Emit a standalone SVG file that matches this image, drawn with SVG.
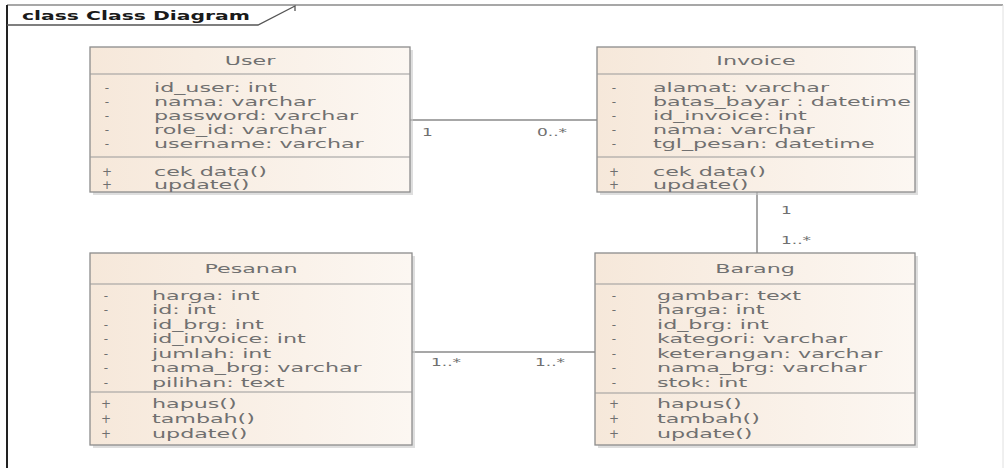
<svg xmlns="http://www.w3.org/2000/svg" width="1006" height="472" viewBox="0 0 1006 472">
<defs>
<linearGradient id="fill" x1="0" y1="0" x2="1" y2="0">
<stop offset="0" stop-color="#f6e8da"/>
<stop offset="1" stop-color="#fcf7f2"/>
</linearGradient>
<style>
.box{fill:url(#fill);stroke:#8c8c8c;stroke-width:1.3}
.shadow{fill:#c8c8c8;opacity:0.6}
.div{stroke:#9a9a9a;stroke-width:1.2}
text{font-family:"DejaVu Sans",sans-serif;fill:#707070}
.t{font-size:12px}
.h{font-size:12px;text-anchor:middle}
.s{font-size:12px;text-anchor:middle}
.lbl{font-size:10px}
.title{font-size:12px;font-weight:bold;fill:#1a1a1a}
.conn{stroke:#8a8a8a;stroke-width:1.5;fill:none}
</style>
</defs>
<rect x="0" y="0" width="1006" height="472" fill="#ffffff"/>
<g id="frame">
<line x1="7" y1="5" x2="1003" y2="5" stroke="#8a8a8a" stroke-width="1.5"/>
<line x1="7" y1="5" x2="7" y2="468" stroke="#222" stroke-width="2"/>
<line x1="1003" y1="5" x2="1003" y2="468" stroke="#e0e0e0" stroke-width="1"/>
<polyline points="7,25 258,25 295,6 295,11" fill="none" stroke="#555" stroke-width="1.3"/>
<text class="title" x="22" y="20" textLength="228" lengthAdjust="spacingAndGlyphs">class Class Diagram</text>
</g>
<g id="connectors">
<line class="conn" x1="410" y1="120" x2="597" y2="120"/>
<line class="conn" x1="757" y1="192" x2="757" y2="253"/>
<line class="conn" x1="412" y1="352" x2="595" y2="352"/>
<text class="lbl" transform="translate(422,136) scale(1.7,1)">1</text>
<text class="lbl" transform="translate(537,136) scale(1.7,1)">0..*</text>
<text class="lbl" transform="translate(781,214) scale(1.7,1)">1</text>
<text class="lbl" transform="translate(781,244) scale(1.7,1)">1..*</text>
<text class="lbl" transform="translate(431,366) scale(1.7,1)">1..*</text>
<text class="lbl" transform="translate(535,366) scale(1.7,1)">1..*</text>
</g>
<g id="User">
<rect class="shadow" x="93" y="50" width="320" height="145"/>
<rect class="box" x="90" y="47" width="320" height="145"/>
<line class="div" x1="90" y1="74" x2="410" y2="74"/>
<line class="div" x1="90" y1="157" x2="410" y2="157"/>
<text class="h" transform="translate(250,65) scale(1.85,1)">User</text>
<text class="s" x="107" y="92">-</text>
<text class="s" x="107" y="106">-</text>
<text class="s" x="107" y="120">-</text>
<text class="s" x="107" y="134">-</text>
<text class="s" x="107" y="148">-</text>
<text class="t" transform="translate(154,92) scale(1.85,1)">id_user: int</text>
<text class="t" transform="translate(154,106) scale(1.85,1)">nama: varchar</text>
<text class="t" transform="translate(154,120) scale(1.85,1)">password: varchar</text>
<text class="t" transform="translate(154,134) scale(1.85,1)">role_id: varchar</text>
<text class="t" transform="translate(154,148) scale(1.85,1)">username: varchar</text>
<text class="s" x="107" y="176">+</text>
<text class="s" x="107" y="189">+</text>
<text class="t" transform="translate(154,176) scale(1.85,1)">cek data()</text>
<text class="t" transform="translate(154,189) scale(1.85,1)">update()</text>
</g>
<g id="Invoice">
<rect class="shadow" x="600" y="50" width="318" height="145"/>
<rect class="box" x="597" y="47" width="318" height="145"/>
<line class="div" x1="597" y1="74" x2="915" y2="74"/>
<line class="div" x1="597" y1="157" x2="915" y2="157"/>
<text class="h" transform="translate(756,65) scale(1.85,1)">Invoice</text>
<text class="s" x="614" y="92">-</text>
<text class="s" x="614" y="106">-</text>
<text class="s" x="614" y="120">-</text>
<text class="s" x="614" y="134">-</text>
<text class="s" x="614" y="148">-</text>
<text class="t" transform="translate(653,92) scale(1.85,1)">alamat: varchar</text>
<text class="t" transform="translate(653,106) scale(1.85,1)">batas_bayar : datetime</text>
<text class="t" transform="translate(653,120) scale(1.85,1)">id_invoice: int</text>
<text class="t" transform="translate(653,134) scale(1.85,1)">nama: varchar</text>
<text class="t" transform="translate(653,148) scale(1.85,1)">tgl_pesan: datetime</text>
<text class="s" x="614" y="176">+</text>
<text class="s" x="614" y="189">+</text>
<text class="t" transform="translate(653,176) scale(1.85,1)">cek data()</text>
<text class="t" transform="translate(653,189) scale(1.85,1)">update()</text>
</g>
<g id="Pesanan">
<rect class="shadow" x="93" y="256" width="322" height="192"/>
<rect class="box" x="90" y="253" width="322" height="192"/>
<line class="div" x1="90" y1="284" x2="412" y2="284"/>
<line class="div" x1="90" y1="392" x2="412" y2="392"/>
<text class="h" transform="translate(251,273) scale(1.85,1)">Pesanan</text>
<text class="s" x="106" y="300">-</text>
<text class="s" x="106" y="314">-</text>
<text class="s" x="106" y="329">-</text>
<text class="s" x="106" y="343">-</text>
<text class="s" x="106" y="358">-</text>
<text class="s" x="106" y="372">-</text>
<text class="s" x="106" y="387">-</text>
<text class="t" transform="translate(152,300) scale(1.85,1)">harga: int</text>
<text class="t" transform="translate(152,314) scale(1.85,1)">id: int</text>
<text class="t" transform="translate(152,329) scale(1.85,1)">id_brg: int</text>
<text class="t" transform="translate(152,343) scale(1.85,1)">id_invoice: int</text>
<text class="t" transform="translate(152,358) scale(1.85,1)">jumlah: int</text>
<text class="t" transform="translate(152,372) scale(1.85,1)">nama_brg: varchar</text>
<text class="t" transform="translate(152,387) scale(1.85,1)">pilihan: text</text>
<text class="s" x="106" y="408">+</text>
<text class="s" x="106" y="423">+</text>
<text class="s" x="106" y="438">+</text>
<text class="t" transform="translate(152,408) scale(1.85,1)">hapus()</text>
<text class="t" transform="translate(152,423) scale(1.85,1)">tambah()</text>
<text class="t" transform="translate(152,438) scale(1.85,1)">update()</text>
</g>
<g id="Barang">
<rect class="shadow" x="598" y="256" width="320" height="192"/>
<rect class="box" x="595" y="253" width="320" height="192"/>
<line class="div" x1="595" y1="284" x2="915" y2="284"/>
<line class="div" x1="595" y1="393" x2="915" y2="393"/>
<text class="h" transform="translate(755,273) scale(1.85,1)">Barang</text>
<text class="s" x="614" y="300">-</text>
<text class="s" x="614" y="314">-</text>
<text class="s" x="614" y="329">-</text>
<text class="s" x="614" y="343">-</text>
<text class="s" x="614" y="358">-</text>
<text class="s" x="614" y="372">-</text>
<text class="s" x="614" y="387">-</text>
<text class="t" transform="translate(657,300) scale(1.85,1)">gambar: text</text>
<text class="t" transform="translate(657,314) scale(1.85,1)">harga: int</text>
<text class="t" transform="translate(657,329) scale(1.85,1)">id_brg: int</text>
<text class="t" transform="translate(657,343) scale(1.85,1)">kategori: varchar</text>
<text class="t" transform="translate(657,358) scale(1.85,1)">keterangan: varchar</text>
<text class="t" transform="translate(657,372) scale(1.85,1)">nama_brg: varchar</text>
<text class="t" transform="translate(657,387) scale(1.85,1)">stok: int</text>
<text class="s" x="614" y="408">+</text>
<text class="s" x="614" y="423">+</text>
<text class="s" x="614" y="438">+</text>
<text class="t" transform="translate(657,408) scale(1.85,1)">hapus()</text>
<text class="t" transform="translate(657,423) scale(1.85,1)">tambah()</text>
<text class="t" transform="translate(657,438) scale(1.85,1)">update()</text>
</g>
</svg>
